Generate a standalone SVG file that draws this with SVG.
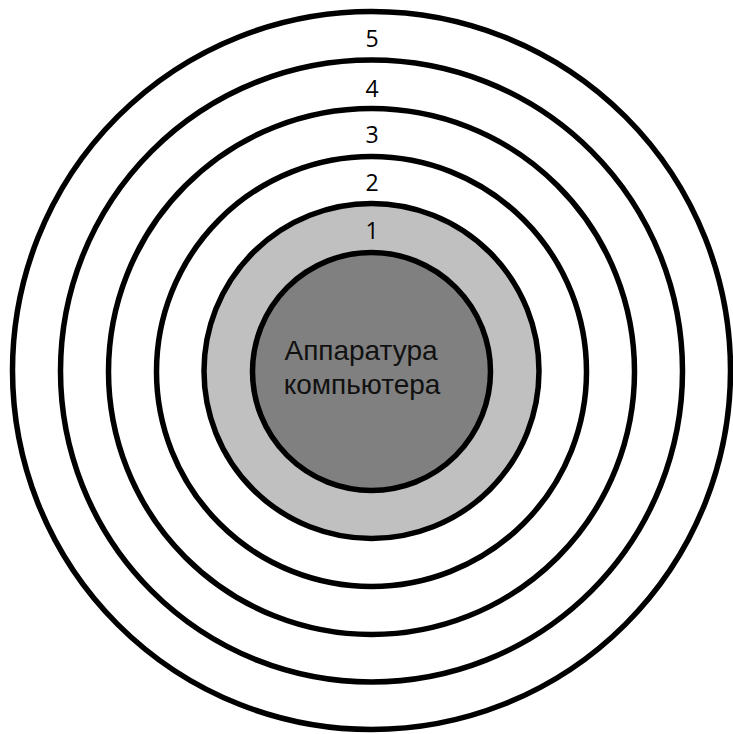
<svg xmlns="http://www.w3.org/2000/svg" width="733" height="734" viewBox="0 0 733 734">
<style>
.ring{fill:none;stroke:#000;stroke-width:5.5}
.num{font-family:"Open Sans","Noto Sans",sans-serif;font-size:23px;fill:#000;text-anchor:middle}
.core{font-family:"Liberation Sans",Arial,sans-serif;font-size:28px;fill:#111;text-anchor:middle}
</style>
<rect width="733" height="734" fill="#fff"/>
<g id="layer5"><circle class="ring" cx="371.5" cy="370.5" r="359" fill="#fff"/><text class="num" x="372" y="47">5</text></g>
<g id="layer4"><circle class="ring" cx="371.5" cy="371" r="311"/><text class="num" x="372" y="97">4</text></g>
<g id="layer3"><circle class="ring" cx="371.5" cy="371.5" r="263"/><text class="num" x="372" y="143">3</text></g>
<g id="layer2"><circle class="ring" cx="371.5" cy="371.5" r="215"/><text class="num" x="372" y="191">2</text></g>
<g id="layer1"><circle cx="371.5" cy="371" r="167.5" fill="#c0c0c0" stroke="#000" stroke-width="5.5"/><text class="num" x="372" y="239">1</text></g>
<g id="hardware"><circle cx="371.5" cy="371.5" r="119" fill="#808080" stroke="#000" stroke-width="5.5"/><text class="core" x="361" y="360">Аппаратура</text><text class="core" x="362" y="394">компьютера</text></g>
</svg>
